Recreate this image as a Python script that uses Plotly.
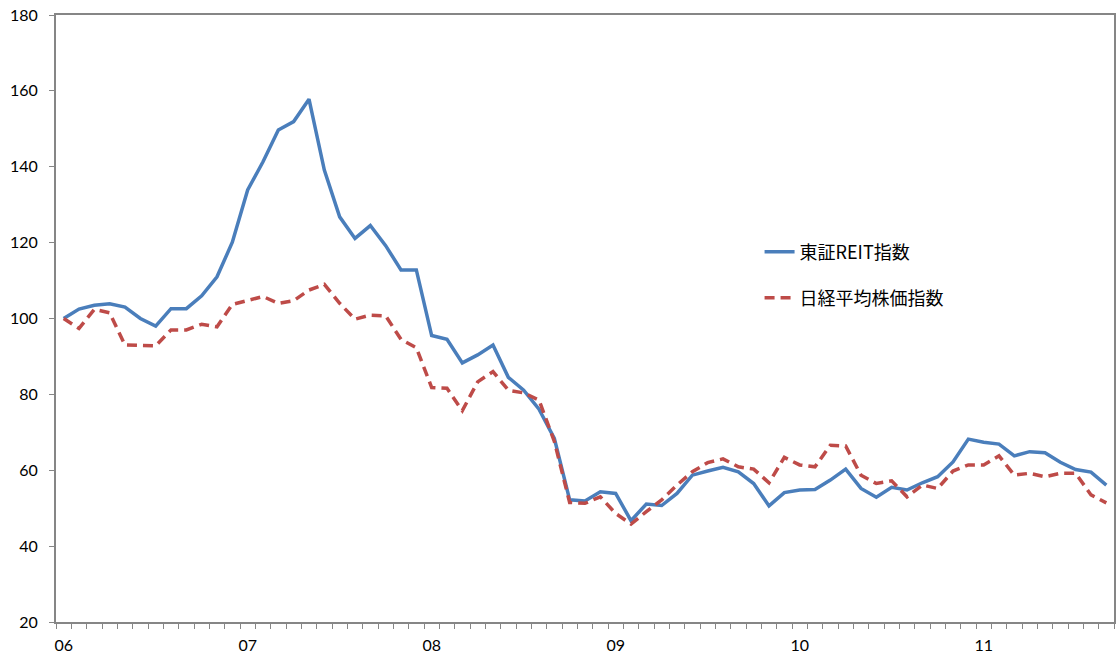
import plotly.graph_objects as go

# Monthly categories Jan 2006 .. Sep 2011
months = [f"{y}-{m:02d}" for y in range(2006, 2012) for m in range(1, 13)][:69]
year_labels = ["06", "07", "08", "09", "10", "11"]
tick_text = [year_labels[i // 12] if i % 12 == 0 else "" for i in range(len(months))]

reit = [100.0, 102.5, 103.5, 103.9, 103.0, 100.0, 98.0, 102.6, 102.6, 106.0,
        111.0, 120.1, 133.9, 141.3, 149.7, 151.9, 157.8, 139.1, 126.8, 121.1,
        124.5, 119.2, 112.8, 112.8, 95.5, 94.5, 88.3, 90.4, 93.0, 84.5,
        81.1, 76.1, 68.4, 52.2, 51.9, 54.3, 53.9, 46.7, 51.1, 50.7,
        53.9, 58.7, 59.8, 60.8, 59.6, 56.5, 50.6, 54.1, 54.8, 54.9,
        57.4, 60.3, 55.2, 52.9, 55.5, 54.8, 56.7, 58.3, 62.2, 68.2,
        67.4, 66.9, 63.8, 64.9, 64.6, 62.1, 60.2, 59.5, 56.1]

nikkei = [100.0, 97.4, 102.4, 101.5, 93.0, 93.0, 92.8, 97.0, 97.0, 98.5,
          97.8, 103.7, 104.7, 105.8, 104.0, 104.7, 107.5, 109.0, 104.0, 99.8,
          100.9, 100.7, 94.5, 92.3, 81.8, 81.6, 75.7, 83.3, 86.0, 81.1,
          80.4, 78.5, 67.6, 51.5, 51.3, 53.0, 48.6, 45.8, 49.1, 52.2,
          56.1, 59.6, 62.0, 63.0, 60.9, 60.3, 56.7, 63.4, 61.4, 60.9,
          66.6, 66.4, 58.7, 56.5, 57.2, 53.0, 56.1, 55.2, 59.8, 61.4,
          61.4, 63.8, 58.7, 59.2, 58.3, 59.2, 59.2, 53.5, 51.4]

series_names = ["東証REIT指数", "日経平均株価指数"]

fig = go.Figure()
fig.add_trace(go.Scatter(x=months, y=reit, mode="lines", name=series_names[0],
                         line=dict(color="#4a7ebb", width=3.5), legend="legend"))
fig.add_trace(go.Scatter(x=months, y=nikkei, mode="lines", name=series_names[1],
                         line=dict(color="#be4b48", width=3.5, dash="10px,6px"),
                         legend="legend2"))

axis_col = "#868686"
legend_font = dict(family="Noto Sans CJK JP", size=18, color="#000000")

fig.update_layout(
    width=1120, height=658,
    margin=dict(l=56, r=6, t=15, b=36),
    paper_bgcolor="white", plot_bgcolor="white",
    font=dict(family="Lato", size=16, color="#000000"),
    showlegend=True,
    legend=dict(x=0.665, y=0.6096, xanchor="left", yanchor="middle",
                font=legend_font, bgcolor="rgba(0,0,0,0)"),
    legend2=dict(x=0.665, y=0.5338, xanchor="left", yanchor="middle",
                 font=legend_font, bgcolor="rgba(0,0,0,0)"),
    xaxis=dict(type="category", tickmode="array", tickvals=months, ticktext=tick_text,
               tickson="boundaries", ticks="outside", ticklen=5, tickcolor=axis_col,
               tickwidth=1, showline=True, linecolor=axis_col, linewidth=2, mirror=True,
               showgrid=False, zeroline=False, ticklabelstandoff=8, tickangle=0,
               automargin=False, range=[-0.5, len(months) - 0.5]),
    yaxis=dict(range=[20, 180], dtick=20, tick0=20, ticks="outside", ticklen=5,
               tickcolor=axis_col, tickwidth=1, showline=True, linecolor=axis_col,
               linewidth=2, mirror=True, showgrid=False, zeroline=False,
               ticklabelstandoff=8, automargin=False),
)

fig.write_html("out.html")
